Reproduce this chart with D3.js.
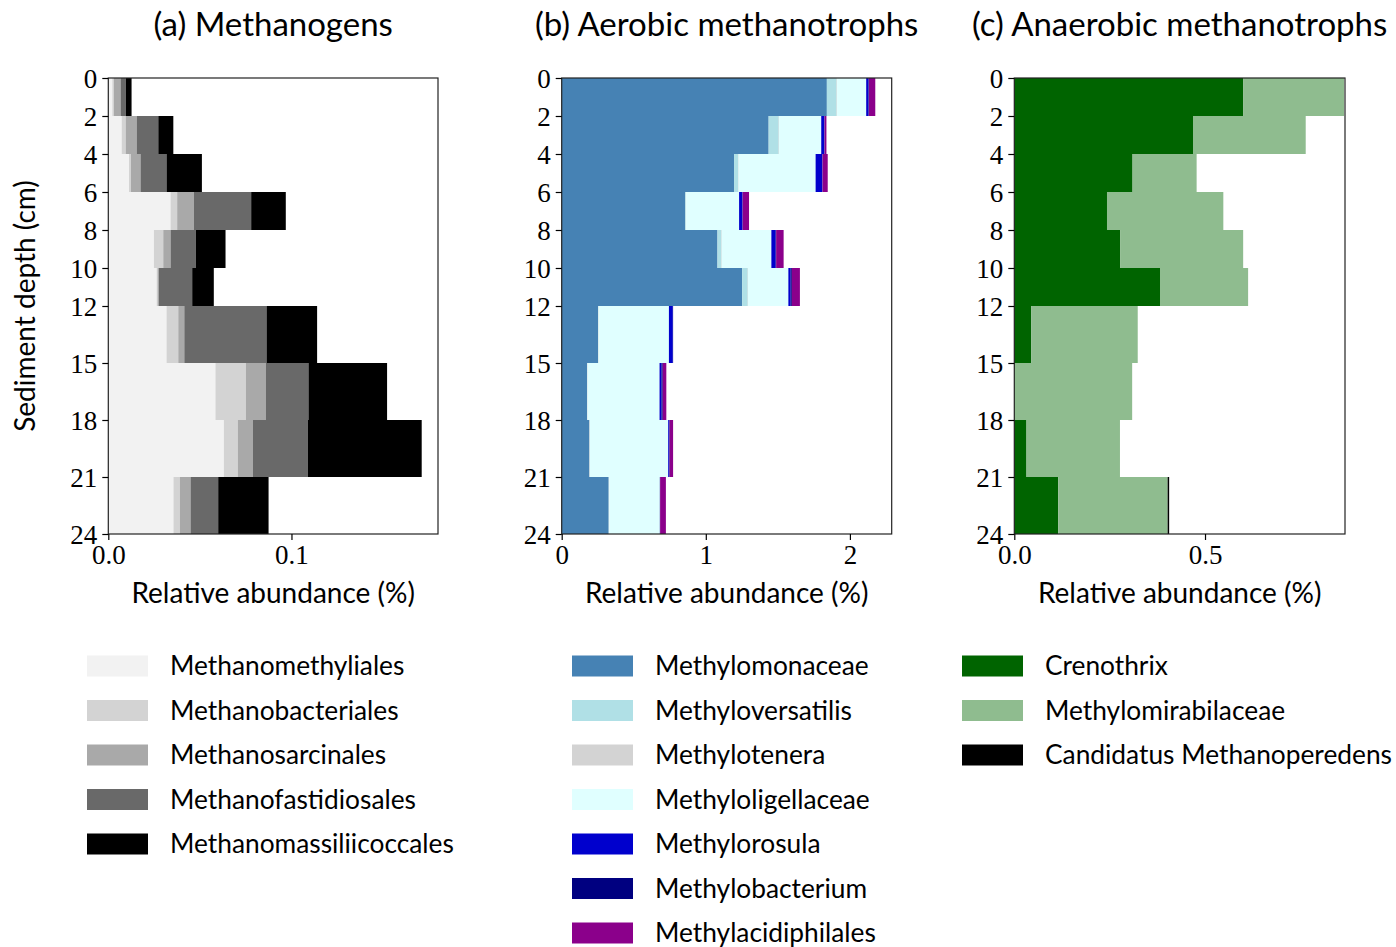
<!DOCTYPE html>
<html>
<head>
<meta charset="utf-8">
<script src="https://cdn.jsdelivr.net/npm/d3@7"></script>
<style>
  body { margin: 0; background: #fff; }
  .sans { font-family: "Lato", "Open Sans", sans-serif; }
  .serif { font-family: "Liberation Serif", "DejaVu Serif", serif; }
</style>
</head>
<body>
<svg id="chart" width="1396" height="947"></svg>
<script>
// depth layer boundaries (cm)
var depthBounds = [0, 2, 4, 6, 8, 10, 12, 15, 18, 21, 24];
var depthTicks = [0, 2, 4, 6, 8, 10, 12, 15, 18, 21, 24];

// (a) Methanogens, relative abundance (%) per layer
var methanoNames = ["Methanomethyliales", "Methanobacteriales", "Methanosarcinales", "Methanofastidiosales", "Methanomassiliicoccales"];
var methanoColors = ["#f2f2f2", "#d3d3d3", "#a9a9a9", "#696969", "#000000"];
var methanomethyliales = [0.0022, 0.0073, 0.0113, 0.034, 0.0249, 0.0264, 0.0318, 0.0585, 0.0631, 0.0356];
var methanobacteriales = [0.0009, 0.0022, 0.0011, 0.0036, 0.0051, 0.0005, 0.0064, 0.0166, 0.0076, 0.0035];
var methanosarcinales = [0.0036, 0.006, 0.0052, 0.0091, 0.004, 0.0007, 0.0033, 0.0109, 0.0082, 0.0058];
var methanofastidiosales = [0.0029, 0.0118, 0.0142, 0.0313, 0.0138, 0.0182, 0.0449, 0.0233, 0.03, 0.0151];
var methanomassiliicoccales = [0.0031, 0.0082, 0.0193, 0.0189, 0.0162, 0.0118, 0.0276, 0.0429, 0.0622, 0.0275];

// (b) Aerobic methanotrophs
var aerobicNames = ["Methylomonaceae", "Methyloversatilis", "Methylotenera", "Methyloligellaceae", "Methylorosula", "Methylobacterium", "Methylacidiphilales"];
var aerobicColors = ["#4682b4", "#b0e0e6", "#d3d3d3", "#e0ffff", "#0000cd", "#000080", "#8b008b"];
var methylomonaceae = [1.84, 1.436, 1.196, 0.857, 1.081, 1.252, 0.252, 0.176, 0.192, 0.326];
var methyloversatilis = [0.068, 0.07, 0.03, 0.005, 0.028, 0.039, 0.003, 0.002, 0.002, 0.002];
var methylotenera = [0.003, 0.002, 0.002, 0.002, 0.002, 0.002, 0.002, 0.002, 0.002, 0.002];
var methyloligellaceae = [0.202, 0.293, 0.534, 0.367, 0.344, 0.28, 0.487, 0.499, 0.543, 0.351];
var methylorosula = [0.016, 0.021, 0.046, 0.023, 0.03, 0.016, 0.027, 0.014, 0.006, 0.0];
var methylobacterium = [0.003, 0.002, 0.002, 0.002, 0.003, 0.008, 0.002, 0.008, 0.004, 0.002];
var methylacidiphilales = [0.044, 0.013, 0.036, 0.044, 0.052, 0.056, 0.0, 0.025, 0.024, 0.04];

// (c) Anaerobic methanotrophs
var anaerobicNames = ["Crenothrix", "Methylomirabilaceae", "Candidatus Methanoperedens"];
var anaerobicColors = ["#006400", "#8fbc8f", "#000000"];
var crenothrix = [0.6005, 0.4685, 0.31, 0.243, 0.278, 0.382, 0.0446, 0.0, 0.032, 0.115];
var methylomirabilaceae = [0.264, 0.2955, 0.168, 0.305, 0.322, 0.231, 0.279, 0.309, 0.245, 0.287];
var methanoperedens = [0, 0, 0, 0, 0, 0, 0, 0, 0, 0.004];

var panels = [
  { title: "(a) Methanogens", left: 108.3, right: 438, xmax: 0.18, ticks: [0, 0.1], fmt: d3.format(".1f"),
    names: methanoNames, colors: methanoColors,
    series: [methanomethyliales, methanobacteriales, methanosarcinales, methanofastidiosales, methanomassiliicoccales],
    legendX: 87 },
  { title: "(b) Aerobic methanotrophs", left: 561.7, right: 891.7, xmax: 2.29, ticks: [0, 1, 2], fmt: d3.format("d"),
    names: aerobicNames, colors: aerobicColors,
    series: [methylomonaceae, methyloversatilis, methylotenera, methyloligellaceae, methylorosula, methylobacterium, methylacidiphilales],
    legendX: 572 },
  { title: "(c) Anaerobic methanotrophs", left: 1014.3, right: 1345, xmax: 0.867, ticks: [0, 0.5], fmt: d3.format(".1f"),
    names: anaerobicNames, colors: anaerobicColors,
    series: [crenothrix, methylomirabilaceae, methanoperedens],
    legendX: 962 }
];

var svg = d3.select("#chart");
var plotTop = 78, plotBottom = 534;

var y = d3.scaleLinear().domain([0, 24]).range([plotTop, plotBottom]);

panels.forEach(function(p) {
  var x = d3.scaleLinear().domain([0, p.xmax]).range([p.left, p.right]);
  var g = svg.append("g");

  // stack the layers
  var rows = [];
  for (var i = 0; i < depthBounds.length - 1; ++i) {
    var row = { i: i };
    p.names.forEach(function(n, k) { row[n] = p.series[k][i]; });
    rows.push(row);
  }
  var stacked = d3.stack().keys(p.names)(rows);

  g.selectAll("g.layer")
    .data(stacked)
    .enter().append("g")
      .attr("class", "layer")
      .attr("fill", function(d, k) { return p.colors[k]; })
    .selectAll("rect")
    .data(function(d) { return d; })
    .enter().append("rect")
      .attr("x", function(d) { return x(d[0]); })
      .attr("width", function(d) { return Math.max(0, x(d[1]) - x(d[0])); })
      .attr("y", function(d) { return y(depthBounds[d.data.i]); })
      .attr("height", function(d) { return y(depthBounds[d.data.i + 1]) - y(depthBounds[d.data.i]); });

  // frame
  g.append("rect")
    .attr("x", p.left).attr("y", plotTop)
    .attr("width", p.right - p.left).attr("height", plotBottom - plotTop)
    .attr("fill", "none").attr("stroke", "#222").attr("stroke-width", 1.2);

  // y axis
  var ya = g.append("g")
    .attr("transform", "translate(" + p.left + ",0)")
    .call(d3.axisLeft(y).tickValues(depthTicks).tickSize(6).tickPadding(5));
  ya.select(".domain").remove();
  ya.selectAll("line").attr("stroke-width", 1.2);
  ya.selectAll("text").attr("class", "serif").attr("font-size", 27).attr("fill", "#000").attr("dy", "0.35em");

  // x axis
  var xa = g.append("g")
    .attr("transform", "translate(0," + plotBottom + ")")
    .call(d3.axisBottom(x).tickValues(p.ticks).tickFormat(p.fmt).tickSize(6).tickPadding(5));
  xa.select(".domain").remove();
  xa.selectAll("line").attr("stroke-width", 1.2);
  xa.selectAll("text").attr("class", "serif").attr("font-size", 27).attr("fill", "#000");

  // labels
  var cx = (p.left + p.right) / 2;
  svg.append("text").attr("class", "sans")
    .attr("x", cx).attr("y", 36).attr("text-anchor", "middle")
    .attr("font-size", 33).text(p.title);
  svg.append("text").attr("class", "sans")
    .attr("x", cx).attr("y", 603).attr("text-anchor", "middle")
    .attr("font-size", 28).text("Relative abundance (%)");

  // legend
  var leg = svg.append("g").attr("class", "sans")
    .selectAll("g")
    .data(p.names)
    .enter().append("g")
      .attr("transform", function(d, k) { return "translate(" + p.legendX + "," + (666 + k * 44.5) + ")"; });
  leg.append("rect")
    .attr("x", 0).attr("y", -10.5).attr("width", 61).attr("height", 21)
    .attr("fill", function(d, k) { return p.colors[k]; });
  leg.append("text")
    .attr("x", 83).attr("y", 0).attr("dy", "0.35em")
    .attr("font-size", 26.3).text(function(d) { return d; });
});

svg.append("text").attr("class", "sans")
  .attr("transform", "translate(35," + ((plotTop + plotBottom) / 2) + ") rotate(-90)")
  .attr("text-anchor", "middle").attr("font-size", 28)
  .text("Sediment depth (cm)");
</script>
</body>
</html>
